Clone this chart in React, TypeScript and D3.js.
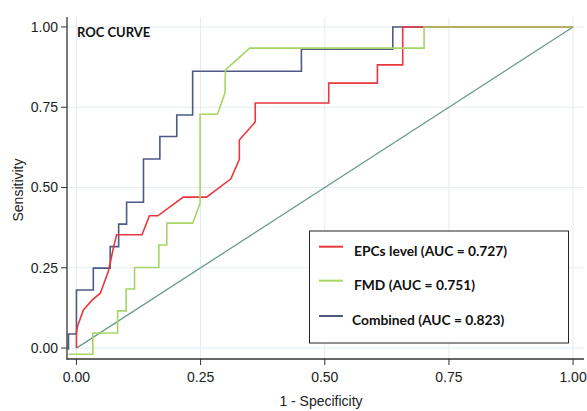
import React from 'react';
import * as d3 from 'd3';

// ROC points: [1 - specificity, sensitivity]
const combined: [number, number][] = [
  [-0.016, -0.005], [-0.016, 0.044], [0, 0.044], [0, 0.181], [0.034, 0.181], [0.034, 0.249],
  [0.068, 0.249], [0.068, 0.316], [0.085, 0.316], [0.085, 0.386], [0.101, 0.386], [0.101, 0.454],
  [0.135, 0.454], [0.135, 0.589], [0.168, 0.589], [0.168, 0.659], [0.202, 0.659], [0.202, 0.726],
  [0.234, 0.726], [0.234, 0.862], [0.453, 0.862], [0.453, 0.931], [0.637, 0.931], [0.637, 1.0],
  [1.0, 1.0],
];
const fmd: [number, number][] = [
  [-0.016, -0.019], [0.033, -0.019], [0.033, 0.047], [0.083, 0.047], [0.083, 0.116], [0.1, 0.116],
  [0.1, 0.184], [0.117, 0.184], [0.117, 0.251], [0.166, 0.251], [0.166, 0.321], [0.182, 0.321],
  [0.182, 0.389], [0.234, 0.389], [0.249, 0.451], [0.249, 0.728], [0.284, 0.728], [0.299, 0.794],
  [0.3, 0.866], [0.349, 0.934], [0.7, 0.934], [0.7, 1.0], [1.0, 1.0],
];
const epcs: [number, number][] = [
  [0, 0], [0, 0.047], [0.002, 0.067], [0.014, 0.119], [0.032, 0.15], [0.048, 0.171], [0.064, 0.238],
  [0.068, 0.265], [0.075, 0.316], [0.081, 0.353], [0.132, 0.353], [0.147, 0.412], [0.164, 0.412],
  [0.215, 0.47], [0.262, 0.47], [0.311, 0.527], [0.328, 0.588], [0.328, 0.648], [0.36, 0.704],
  [0.36, 0.763], [0.508, 0.763], [0.508, 0.825], [0.606, 0.825], [0.606, 0.882], [0.657, 0.882],
  [0.657, 1.0], [1.0, 1.0],
];
const reference: [number, number][] = [[0, 0], [1, 1]];

const ticks = [0, 0.25, 0.5, 0.75, 1];
const legendLabels = ['EPCs level (AUC = 0.727)', 'FMD (AUC = 0.751)', 'Combined (AUC = 0.823)'];
const legendColors = ['#e8383d', '#a8d468', '#4b5b85'];

const W = 587;
const H = 411;

export default function App() {
  const x = d3.scaleLinear().domain([-0.019, 1.022]).range([67, 584]);
  const y = d3.scaleLinear().domain([-0.034, 1.031]).range([359, 17]);
  const line = d3.line<[number, number]>().x((d) => x(d[0])).y((d) => y(d[1]));
  const fmt = d3.format('.2f');

  const series = [
    { data: reference, color: '#6b9a8c', w: 1.3 },
    { data: combined, color: legendColors[2], w: 1.6 },
    { data: epcs, color: legendColors[0], w: 1.6 },
    { data: fmd, color: legendColors[1], w: 1.6 },
  ];

  const axisFont = "'Liberation Sans', Arial, sans-serif";
  const boldFont = "Lato, 'Open Sans', sans-serif";

  return (
    <svg width={W} height={H} style={{ position: 'absolute', left: 0, top: 0, background: '#fff' }}>
      {/* grid */}
      {ticks.map((t) => (
        <g key={'g' + t}>
          <line x1={x(t)} x2={x(t)} y1={17} y2={359} stroke="#e4ecf1" strokeWidth={1} />
          <line x1={67} x2={584} y1={y(t)} y2={y(t)} stroke="#e4ecf1" strokeWidth={1} />
        </g>
      ))}

      {series.map((s, i) => (
        <path key={i} d={line(s.data) || ''} fill="none" stroke={s.color} strokeWidth={s.w} />
      ))}

      {/* axes */}
      <line x1={67} x2={67} y1={17} y2={359.5} stroke="#333" strokeWidth={1.3} />
      <line x1={66.5} x2={584} y1={359} y2={359} stroke="#333" strokeWidth={1.3} />
      {ticks.map((t) => (
        <g key={'t' + t}>
          <line x1={61} x2={67} y1={y(t)} y2={y(t)} stroke="#333" strokeWidth={1} />
          <text x={58} y={y(t)} dy="0.35em" textAnchor="end" fontFamily={axisFont} fontSize={14} fill="#222">
            {fmt(t)}
          </text>
          <line x1={x(t)} x2={x(t)} y1={359} y2={365} stroke="#333" strokeWidth={1} />
          <text x={x(t)} y={377} dy="0.35em" textAnchor="middle" fontFamily={axisFont} fontSize={14} fill="#222">
            {fmt(t)}
          </text>
        </g>
      ))}
      <text x={321} y={406} textAnchor="middle" fontFamily={axisFont} fontSize={14} fill="#222">
        1 - Specificity
      </text>
      <text
        transform={`translate(23,190) rotate(-90)`}
        textAnchor="middle"
        fontFamily={axisFont}
        fontSize={14}
        fill="#222"
      >
        Sensitivity
      </text>

      <text x={77} y={37} fontFamily={boldFont} fontWeight={700} fontSize={13} fill="#111">
        ROC CURVE
      </text>

      {/* legend */}
      <rect x={309.5} y={231} width={259} height={112} fill="#fff" stroke="#222" strokeWidth={1} />
      {legendLabels.map((lab, i) => {
        const ly = [246.7, 280.7, 316][i];
        return (
          <g key={lab}>
            <line x1={319} x2={343} y1={ly} y2={ly} stroke={legendColors[i]} strokeWidth={2} />
            <text x={i === 2 ? 352 : 354} y={ly + 4} dy="0.35em" fontFamily={boldFont} fontWeight={700} fontSize={13.8} fill="#111">
              {lab}
            </text>
          </g>
        );
      })}
    </svg>
  );
}
